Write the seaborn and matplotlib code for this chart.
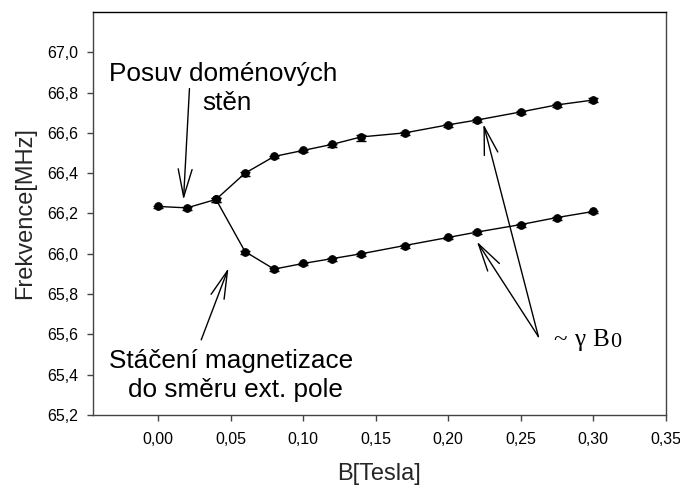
import numpy as np
import pandas as pd
import matplotlib
matplotlib.use("Agg")
import matplotlib.pyplot as plt
import seaborn as sns

# Magnetic field [T]
field = [0.00, 0.02, 0.04, 0.06, 0.08, 0.10, 0.12, 0.14, 0.17, 0.20, 0.22, 0.25, 0.275, 0.30]
# Upper branch frequency [MHz]
freq_upper = [66.235, 66.228, 66.270, 66.400, 66.483, 66.513, 66.543, 66.580,
              66.600, 66.640, 66.664, 66.704, 66.739, 66.763]
err_upper_lo = [0.010, 0.010, 0.015, 0.015, 0.010, 0.010, 0.012, 0.020,
                0.010, 0.010, 0.010, 0.012, 0.012, 0.012]
err_upper_hi = [0.004, 0.004, 0.006, 0.006, 0.004, 0.004, 0.004, 0.010,
                0.004, 0.004, 0.004, 0.004, 0.004, 0.008]
# Lower branch starts from the splitting point at 0.04 T
field_lower = [0.04, 0.06, 0.08, 0.10, 0.12, 0.14, 0.17, 0.20, 0.22, 0.25, 0.275, 0.30]
freq_lower = [66.270, 66.011, 65.924, 65.952, 65.976, 66.000, 66.041, 66.081,
              66.108, 66.145, 66.180, 66.210]
err_lower_lo = [0.015, 0.010, 0.010, 0.010, 0.010, 0.010, 0.010, 0.010,
                0.012, 0.012, 0.010, 0.010]
err_lower_hi = [0.006, 0.004, 0.004, 0.004, 0.004, 0.004, 0.004, 0.004,
                0.004, 0.004, 0.004, 0.004]

x_ticks = [0.00, 0.05, 0.10, 0.15, 0.20, 0.25, 0.30, 0.35]
y_ticks = [65.2, 65.4, 65.6, 65.8, 66.0, 66.2, 66.4, 66.6, 66.8, 67.0]

sns.set_style("ticks")
plt.rcParams["font.family"] = ["Liberation Sans", "DejaVu Sans"]

fig = plt.figure(figsize=(6.8, 4.86), dpi=100)
ax = fig.add_axes([0.1363, 0.1461, 0.9791 - 0.1363, 0.9753 - 0.1461])

df_up = pd.DataFrame({"B": field, "f": freq_upper})
df_lo = pd.DataFrame({"B": field_lower, "f": freq_lower})

for df, elo, ehi in ((df_up, err_upper_lo, err_upper_hi),
                     (df_lo, err_lower_lo, err_lower_hi)):
    ax.errorbar(df["B"], df["f"], yerr=[elo, ehi], fmt="none",
                ecolor="black", elinewidth=1.0, capsize=3.5, capthick=1.0, zorder=2)
    sns.lineplot(data=df, x="B", y="f", ax=ax, color="black", linewidth=1.0,
                 marker="o", markersize=5.5, markeredgecolor="black",
                 markerfacecolor="black", sort=False, zorder=3)

ax.set_xlim(-0.045, 0.35)
ax.set_ylim(65.2, 67.2)
ax.set_xticks(x_ticks)
ax.set_yticks(y_ticks)
ax.set_xticklabels([f"{v:.2f}".replace(".", ",") for v in x_ticks])
ax.set_yticklabels([f"{v:.1f}".replace(".", ",") for v in y_ticks])
ax.tick_params(axis="x", direction="out", length=4, width=1, colors="#444444",
               labelcolor="black", labelsize=11.5, pad=8)
ax.tick_params(axis="y", direction="out", length=4, width=1, colors="#444444",
               labelcolor="black", labelsize=11.5, pad=6.5)
for side in ("left", "bottom", "right"):
    ax.spines[side].set_color("#444444")
    ax.spines[side].set_linewidth(1.0)
ax.spines["top"].set_color("black")
ax.spines["top"].set_linewidth(1.0)

ax.set_xlabel("B[Tesla]", fontsize=17, labelpad=12)
ax.set_ylabel("Frekvence[MHz]", fontsize=17, labelpad=8)

# Annotations
txt = dict(fontsize=18.8, ha="center", va="baseline", color="black")
ax.text(0.0452, 66.859, "Posuv doménových", **txt)
ax.text(0.0473, 66.715, "stěn", **txt)
ax.text(0.0505, 65.432, "Stáčení magnetizace", **txt)
ax.text(0.0533, 65.289, "do směru ext. pole", **txt)

serif = ["Liberation Serif", "DejaVu Serif"]
sym = dict(ha="left", va="baseline", family=serif, color="black")
ax.text(0.2724, 65.544, "~", fontsize=18, **sym)
ax.text(0.2868, 65.544, "γ", fontsize=18, **sym)
ax.text(0.2992, 65.544, "B", fontsize=18, **sym)
ax.text(0.3116, 65.535, "0", fontsize=16, **sym)

arrow = dict(arrowstyle="->, head_length=1.0, head_width=0.25", color="black",
             lw=1.0, shrinkA=0, shrinkB=0, mutation_scale=20)
ax.annotate("", xy=(0.0176, 66.268), xytext=(0.0217, 66.820), arrowprops=arrow)
ax.annotate("", xy=(0.0486, 65.929), xytext=(0.0298, 65.573), arrowprops=arrow)
ax.annotate("", xy=(0.2198, 66.061), xytext=(0.2622, 65.589), arrowprops=arrow)
ax.annotate("", xy=(0.2243, 66.644), xytext=(0.2622, 65.589), arrowprops=arrow)

fig.savefig("out.png", dpi=100)
